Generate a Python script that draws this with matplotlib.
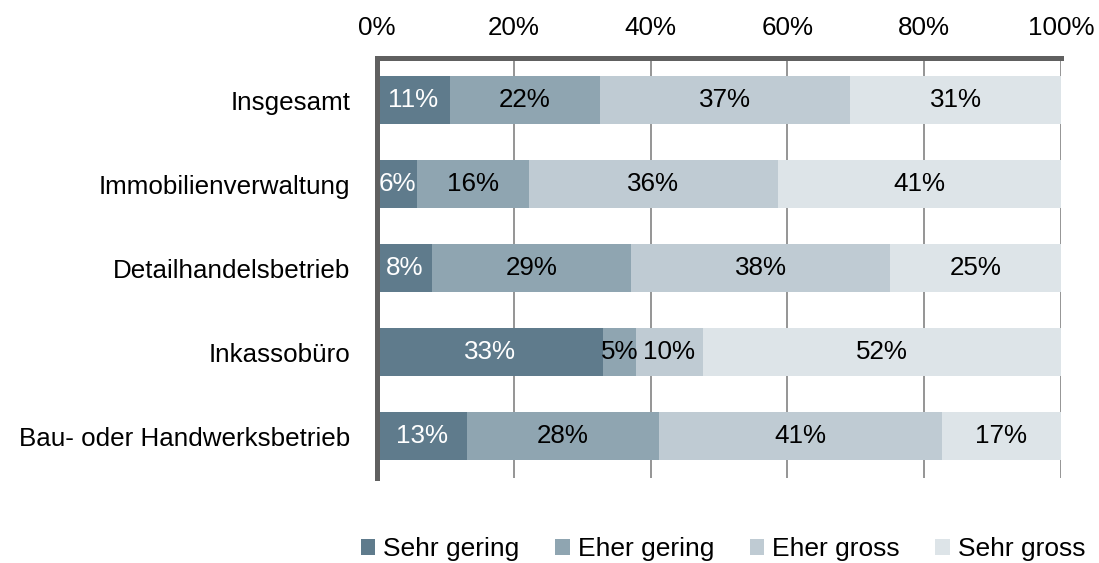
import matplotlib
matplotlib.use("Agg")
import matplotlib.pyplot as plt
import numpy as np

categories = ["Insgesamt", "Immobilienverwaltung", "Detailhandelsbetrieb",
              "Inkassobüro", "Bau- oder Handwerksbetrieb"]
series_names = ["Sehr gering", "Eher gering", "Eher gross", "Sehr gross"]
sehr_gering = [10.6, 5.9, 8.1, 33.1, 13.1]
eher_gering = [22.0, 16.3, 29.1, 4.7, 28.1]
eher_gross = [36.6, 36.4, 37.8, 9.8, 41.4]
sehr_gross = [30.8, 41.4, 25.0, 52.4, 17.4]
xticks = [0, 20, 40, 60, 80, 100]
xtick_labels = ["0%", "20%", "40%", "60%", "80%", "100%"]

colors = ["#5f7b8c", "#8fa5b1", "#bfcbd3", "#dde4e8"]
text_colors = ["white", "black", "black", "black"]

plt.rcParams['font.family'] = ['Liberation Sans', 'DejaVu Sans']
FS = 18.7

fig = plt.figure(figsize=(10.99, 5.63), dpi=100)
ax = fig.add_axes([377/1099, 1 - 478/563, (1061-377)/1099, 420/563])

y = np.arange(len(categories))
left = np.zeros(len(categories))
handles = []
for vals, name, col, tc in zip([sehr_gering, eher_gering, eher_gross, sehr_gross],
                               series_names, colors, text_colors):
    vals = np.array(vals)
    bars = ax.barh(y, vals, left=left, height=0.56, color=col, label=name, zorder=2)
    handles.append(bars)
    for yi, l, v in zip(y, left, vals):
        ax.text(l + v/2, yi, f"{int(round(v))}%", ha="center", va="center",
                color=tc, fontsize=FS, zorder=3)
    left = left + vals

ax.set_xlim(0, 100)
ax.set_ylim(len(categories) - 0.5, -0.5)
ax.set_yticks(y)
ax.set_yticklabels(categories, fontsize=FS)
ax.set_xticks(xticks)
ax.set_xticklabels(xtick_labels, fontsize=FS)
ax.xaxis.tick_top()
ax.tick_params(axis='both', length=0)
ax.tick_params(axis='x', pad=13)
ax.tick_params(axis='y', pad=19)
ax.xaxis.grid(True, color="#8c8c8c", linewidth=1.3, zorder=0)
ax.set_axisbelow(True)

for s in ["right", "bottom"]:
    ax.spines[s].set_visible(False)
ax.spines["top"].set_color("#606060")
ax.spines["top"].set_linewidth(3.6)
ax.spines["left"].set_color("#606060")
ax.spines["left"].set_linewidth(3.6)

fig.legend(handles=handles, labels=series_names, loc="center",
           bbox_to_anchor=(723/1099, 1 - 549/563), ncol=4, frameon=False,
           fontsize=19, handlelength=0.55, handleheight=0.55, handletextpad=0.3,
           columnspacing=1.35, borderpad=0.1)

fig.savefig("out.png", dpi=100)
